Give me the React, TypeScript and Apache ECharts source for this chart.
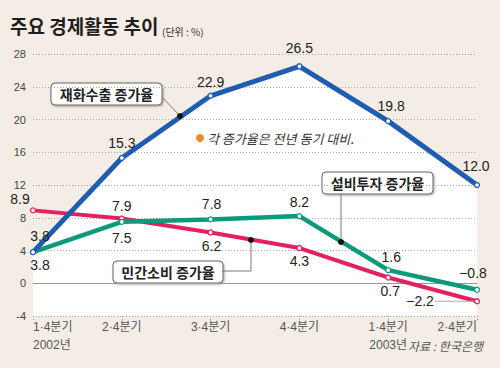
import React, { useEffect, useRef } from "react";
import * as echarts from "echarts";

const categories = ["1·4분기", "2·4분기", "3·4분기", "4·4분기", "1·4분기", "2·4분기"];
const years = ["2002년", "", "", "", "2003년", ""];
const exportGrowth = [3.8, 15.3, 22.9, 26.5, 19.8, 12.0];
const investmentGrowth = [3.8, 7.5, 7.8, 8.2, 1.6, -0.8];
const consumptionGrowth = [8.9, 7.9, 6.2, 4.3, 0.7, -2.2];
const yMin = -4;
const yMax = 28;
const yStep = 4;

const BLUE = "#1f5db1";
const GREEN = "#0c9a7c";
const RED = "#e2215f";
const BG = "#f4ede5";
const FONT = "'Liberation Sans', 'Noto Sans CJK KR', sans-serif";

// label offsets (centre of label relative to the point)
const exportOffsets = [[7, -16], [0, -15], [0, -14], [0, -18], [3, -15], [-1, -19]];
const investOffsets = [[7, 13], [0, 16], [1, -15], [0, -14], [3, -13], [-4, -17]];
const consumOffsets = [[-13, -11], [0, -13], [1, 14], [0, 13], [2, 13], null];

const fmt = (v: number) => v.toFixed(1).replace("-", "−");

function buildData(values: number[], offsets: (number[] | null)[]) {
  return values.map((v, i) => {
    const off = offsets[i];
    if (off) {
      return { value: v, label: { show: true, position: "inside", offset: off } };
    }
    return {
      value: v,
      label: {
        show: true,
        position: "left",
        distance: 0,
        formatter: () => "{t|" + fmt(v) + "}{l|}",
        rich: {
          t: { fontSize: 14, color: "#222", fontFamily: FONT, padding: [0, 1, 0, 0] },
          l: { width: 39, height: 1, backgroundColor: "#aaa" },
        },
      },
    };
  });
}

export default function App() {
  const ref = useRef<HTMLDivElement>(null);
  useEffect(() => {
    if (!ref.current) return;
    const chart = echarts.init(ref.current, null, { renderer: "svg" });
    const labelBase = {
      fontSize: 14,
      color: "#222",
      fontFamily: FONT,
      formatter: (p: any) => fmt(p.value),
    };
    const lineSeries = (name: string, color: string, width: number, data: any[], z: number) => ({
      name,
      type: "line",
      xAxisIndex: 0,
      data,
      z,
      symbol: "circle",
      symbolSize: 5,
      showAllSymbol: true,
      lineStyle: { color, width },
      itemStyle: { color: "#fff", borderColor: color, borderWidth: 1.3 },
      label: labelBase,
      emphasis: { disabled: true },
    });
    const box = (x: number, y: number, w: number, h: number, text: string) => ({
      type: "group",
      z: 100,
      children: [
        {
          type: "rect",
          shape: { x, y, width: w, height: h, r: 4 },
          style: {
            fill: "#fff",
            stroke: "#666",
            lineWidth: 1,
            shadowBlur: 2,
            shadowOffsetX: 1,
            shadowOffsetY: 1,
            shadowColor: "rgba(0,0,0,0.35)",
          },
        },
        {
          type: "text",
          x: x + w / 2,
          y: y + h / 2,
          style: {
            text,
            fill: "#222",
            font: "bold 14px 'Noto Sans CJK KR', sans-serif",
            align: "center",
            verticalAlign: "middle",
          },
        },
      ],
    });
    const dot = (x: number, y: number) => ({
      type: "circle",
      z: 101,
      shape: { cx: x, cy: y, r: 3 },
      style: { fill: "#111" },
    });
    const leader = (pts: number[][]) => ({
      type: "polyline",
      z: 99,
      shape: { points: pts },
      style: { stroke: "#777", lineWidth: 1, fill: "none" },
    });

    chart.setOption({
      animation: false,
      backgroundColor: BG,
      grid: { left: 33, right: 23, top: 54, bottom: 52 },
      xAxis: [
        {
          type: "category",
          position: "top",
          data: categories,
          boundaryGap: false,
          axisLine: { show: true, onZero: true, lineStyle: { color: "#999", width: 1 } },
          axisTick: { show: false },
          axisLabel: { show: false },
          splitLine: { show: false },
        },
        {
          type: "category",
          position: "bottom",
          data: categories,
          boundaryGap: false,
          axisLine: { show: false, onZero: false },
          axisTick: { show: true, length: 6, lineStyle: { color: "#999", type: [1, 2] } },
          axisLabel: {
            show: true,
            margin: 2,
            fontSize: 12,
            lineHeight: 18,
            color: "#555",
            fontFamily: FONT,
            alignMinLabel: "left",
            alignMaxLabel: "right",
            formatter: (_v: string, i: number) =>
              years[i] ? categories[i] + "\n" + years[i] : categories[i],
          },
          splitLine: { show: false },
        },
      ],
      yAxis: {
        type: "value",
        min: yMin,
        max: yMax,
        interval: yStep,
        axisLine: { show: false },
        axisTick: { show: false },
        axisLabel: { fontSize: 11, color: "#444", margin: 7, fontFamily: FONT },
        splitLine: { show: true, lineStyle: { color: "#a8a8a8", type: [1, 2], width: 1 } },
      },
      series: [
        {
          name: "area",
          type: "line",
          data: exportGrowth,
          z: -1,
          symbol: "none",
          silent: true,
          lineStyle: { width: 0 },
          areaStyle: { color: "#ffffff", opacity: 1, origin: "start" },
          emphasis: { disabled: true },
        },
        lineSeries("민간소비 증가율", RED, 4, buildData(consumptionGrowth, consumOffsets), 2),
        lineSeries("설비투자 증가율", GREEN, 4.5, buildData(investmentGrowth, investOffsets), 3),
        lineSeries("재화수출 증가율", BLUE, 5, buildData(exportGrowth, exportOffsets), 4),
      ],
      graphic: [
        {
          type: "text",
          z: 100,
          x: 10,
          y: 25,
          style: {
            text: "주요 경제활동 추이",
            fill: "#1e1e1e",
            font: "bold 19px 'Noto Sans CJK KR', sans-serif",
            verticalAlign: "middle",
          },
        },
        {
          type: "text",
          z: 100,
          x: 162,
          y: 31,
          style: {
            text: "(단위 : %)",
            fill: "#333",
            font: "10px 'Noto Sans CJK KR', sans-serif",
            verticalAlign: "middle",
          },
        },
        leader([[162, 97], [180, 116]]),
        box(51, 83, 111, 22, "재화수출 증가율"),
        dot(180, 116),
        leader([[341, 194], [341, 242]]),
        box(322, 172, 111, 22, "설비투자 증가율"),
        dot(341, 242),
        leader([[222, 271], [251, 271], [251, 240]]),
        box(113, 261, 110, 22, "민간소비 증가율"),
        dot(251, 240),
        {
          type: "circle",
          z: 100,
          shape: { cx: 200, cy: 138, r: 4 },
          style: { fill: "#f08a28" },
        },
        {
          type: "text",
          z: 100,
          x: 207,
          y: 138,
          style: {
            text: "각 증가율은 전년 동기 대비.",
            fill: "#333",
            font: "italic 13px 'Noto Sans CJK KR', sans-serif",
            verticalAlign: "middle",
          },
        },
        {
          type: "text",
          z: 100,
          x: 483,
          y: 345,
          style: {
            text: "자료 : 한국은행",
            fill: "#555",
            font: "italic 12px 'Noto Sans CJK KR', sans-serif",
            align: "right",
            verticalAlign: "middle",
          },
        },
      ],
    });
    return () => chart.dispose();
  }, []);
  return <div ref={ref} style={{ width: 500, height: 368, position: "absolute", left: 0, top: 0 }} />;
}
